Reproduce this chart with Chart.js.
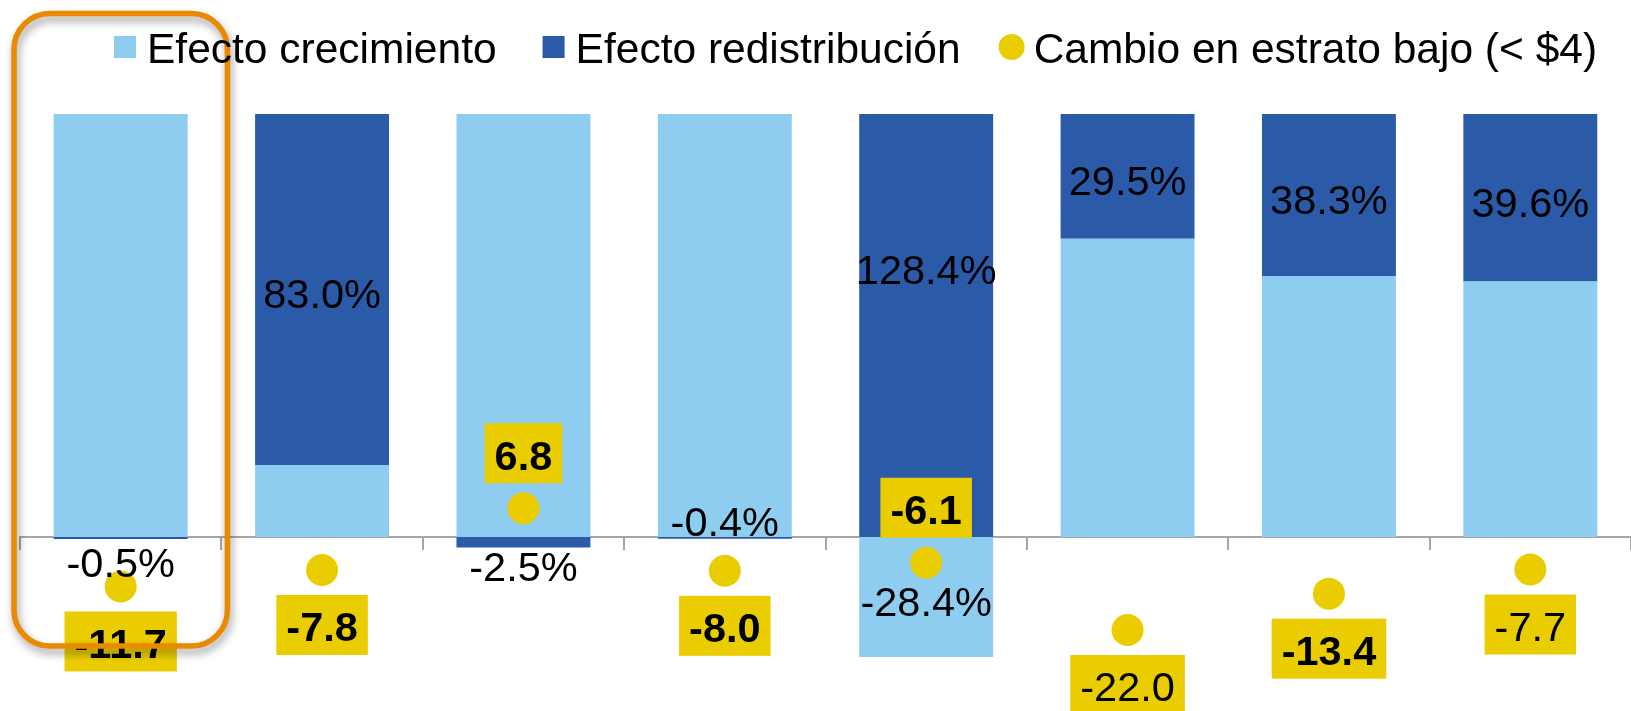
<!DOCTYPE html>
<html>
<head>
<meta charset="utf-8">
<script src="https://cdn.jsdelivr.net/npm/chart.js@4.4.1/dist/chart.umd.min.js"></script>
<style>
html,body{margin:0;padding:0;background:#fff;overflow:hidden}
#wrap{width:1631px;height:711px;position:relative}
</style>
</head>
<body>
<div id="wrap"><canvas id="c" width="1631" height="711"></canvas></div>
<script>
// ---------- data ----------
const categories = ['1', '2', '3', '4', '5', '6', '7', '8'];
const growthEffect = [100.5, 17.0, 102.5, 100.4, -28.4, 70.5, 61.7, 60.4];
const redistributionEffect = [-0.5, 83.0, -2.5, -0.4, 128.4, 29.5, 38.3, 39.6];
const lowStratumChange = [-11.7, -7.8, 6.8, -8.0, -6.1, -22.0, -13.4, -7.7];
const seriesNames = ['Efecto crecimiento', 'Efecto redistribución', 'Cambio en estrato bajo (< $4)'];
const axisRange = { min: -35, max: 100 };

// ---------- label presentation (style only) ----------
const redistLabelPlacement = ['below', 'center', 'below', 'above', 'center', 'center', 'center', 'center'];
const changeLabelPlacement = ['below', 'below', 'above', 'below', 'above', 'below', 'below', 'below'];
const changeLabelBold = [true, true, true, true, true, false, true, false];
const highlightedCategory = 0;

const LIGHT = '#8ECDF0';
const DARK = '#2B5AA8';
const YELLOW = '#EACD00';
const ORANGE = '#E98A00';
const AXIS = '#A6A6A6';
const FONT = '"Liberation Sans", Arial, sans-serif';
const LABEL_SIZE = 41.5;
const LEGEND_SIZE = 42.5;

const overlayPlugin = {
  id: 'overlay',
  afterDatasetsDraw(chart) {
    const ctx = chart.ctx;
    const cap = LABEL_SIZE * 0.716;
    const zeroPx = chart.scales.y.getPixelForValue(0);
    ctx.save();
    ctx.textAlign = 'center';
    ctx.textBaseline = 'alphabetic';
    ctx.fillStyle = '#000';
    ctx.font = LABEL_SIZE + 'px ' + FONT;

    const growthMeta = chart.getDatasetMeta(1);
    const redistMeta = chart.getDatasetMeta(2);
    categories.forEach((c, i) => {
      const el = redistMeta.data[i];
      const txt = redistributionEffect[i].toFixed(1) + '%';
      const hi = Math.max(el.y, el.base), lo = Math.min(el.y, el.base);
      let by;
      const p = redistLabelPlacement[i];
      if (p === 'center') by = (el.y + el.base) / 2 + cap / 2 + 4;
      else if (p === 'below') by = Math.max(hi + 33, zeroPx + 40);
      else by = lo - 1;
      ctx.fillText(txt, el.x, by);
      if (growthEffect[i] < 0) {
        const g = growthMeta.data[i];
        ctx.fillText(growthEffect[i].toFixed(1) + '%', g.x, (g.y + g.base) / 2 + cap / 2 + 4);
      }
    });

    const dotMeta = chart.getDatasetMeta(0);
    lowStratumChange.forEach((v, i) => {
      const pt = dotMeta.data[i];
      const bold = changeLabelBold[i];
      ctx.font = (bold ? 'bold ' : '') + LABEL_SIZE + 'px ' + FONT;
      const txt = v.toFixed(1);
      const w = ctx.measureText(txt).width + 20;
      const h = 60;
      const cy = pt.y + (changeLabelPlacement[i] === 'above' ? -55 : 55);
      ctx.fillStyle = YELLOW;
      ctx.fillRect(pt.x - w / 2, cy - h / 2, w, h);
      ctx.fillStyle = '#000';
      ctx.fillText(txt, pt.x, cy + cap / 2 + 1.5);
    });
    ctx.restore();
  },
  afterDraw(chart) {
    const ctx = chart.ctx;
    const xs = chart.scales.x;
    const ys = chart.scales.y;
    ctx.save();
    const catW = (xs.right - xs.left) / categories.length;
    const cx = xs.getPixelForValue(highlightedCategory);
    const left = cx - catW * 0.53, right = cx + catW * 0.53;
    const top = 13.5, bottom = ys.getPixelForValue(-25.8);
    const r = 36;
    ctx.shadowColor = 'rgba(0,0,0,0.4)';
    ctx.shadowBlur = 9;
    ctx.shadowOffsetX = 2;
    ctx.shadowOffsetY = 5;
    ctx.strokeStyle = ORANGE;
    ctx.lineWidth = 5.5;
    ctx.beginPath();
    ctx.moveTo(left + r, top);
    ctx.arcTo(right, top, right, bottom, r);
    ctx.arcTo(right, bottom, left, bottom, r);
    ctx.arcTo(left, bottom, left, top, r);
    ctx.arcTo(left, top, right, top, r);
    ctx.closePath();
    ctx.stroke();
    ctx.restore();

    ctx.save();
    ctx.font = LEGEND_SIZE + 'px ' + FONT;
    ctx.textAlign = 'left';
    ctx.textBaseline = 'alphabetic';
    const colors = [LIGHT, DARK, YELLOW];
    const gaps = [46, 38];
    let x = 114;
    const baseline = 63;
    seriesNames.forEach((name, i) => {
      ctx.fillStyle = colors[i];
      let mw;
      if (i < 2) {
        ctx.fillRect(x, 36, 22, 22);
        mw = 22;
      } else {
        ctx.beginPath();
        ctx.arc(x + 13, 47, 13, 0, Math.PI * 2);
        ctx.fill();
        mw = 26;
      }
      const tx = x + mw + (i < 2 ? 11 : 9);
      ctx.fillStyle = '#000';
      ctx.fillText(name, tx, baseline);
      x = tx + ctx.measureText(name).width + (gaps[i] || 0);
    });
    ctx.restore();
  }
};

new Chart(document.getElementById('c'), {
  type: 'bar',
  data: {
    labels: categories,
    datasets: [
      {
        type: 'line',
        label: seriesNames[2],
        data: lowStratumChange,
        yAxisID: 'y2',
        showLine: false,
        pointRadius: 16,
        pointHoverRadius: 16,
        pointBorderWidth: 0,
        pointBackgroundColor: YELLOW,
        borderColor: YELLOW,
        backgroundColor: YELLOW,
        clip: false,
        order: 0
      },
      {
        label: seriesNames[0],
        data: growthEffect,
        backgroundColor: LIGHT,
        borderWidth: 0,
        yAxisID: 'y',
        order: 1
      },
      {
        label: seriesNames[1],
        data: redistributionEffect,
        backgroundColor: DARK,
        borderWidth: 0,
        yAxisID: 'y',
        order: 1
      }
    ]
  },
  options: {
    responsive: false,
    animation: false,
    events: [],
    layout: { autoPadding: false, padding: { left: 20, right: 0, top: 114, bottom: 26 } },
    datasets: { bar: { categoryPercentage: 1, barPercentage: 0.665 } },
    plugins: { legend: { display: false }, tooltip: { enabled: false } },
    scales: {
      x: {
        stacked: true,
        position: { y: 0 },
        ticks: { display: false },
        grid: { display: true, drawOnChartArea: false, drawTicks: true, tickLength: 12, color: AXIS, lineWidth: 2, offset: true },
        border: { display: true, color: AXIS, width: 2 }
      },
      y: {
        stacked: true,
        display: false,
        min: axisRange.min,
        max: axisRange.max
      },
      y2: {
        display: false,
        min: axisRange.min,
        max: axisRange.max
      }
    }
  },
  plugins: [overlayPlugin]
});
</script>
</body>
</html>
